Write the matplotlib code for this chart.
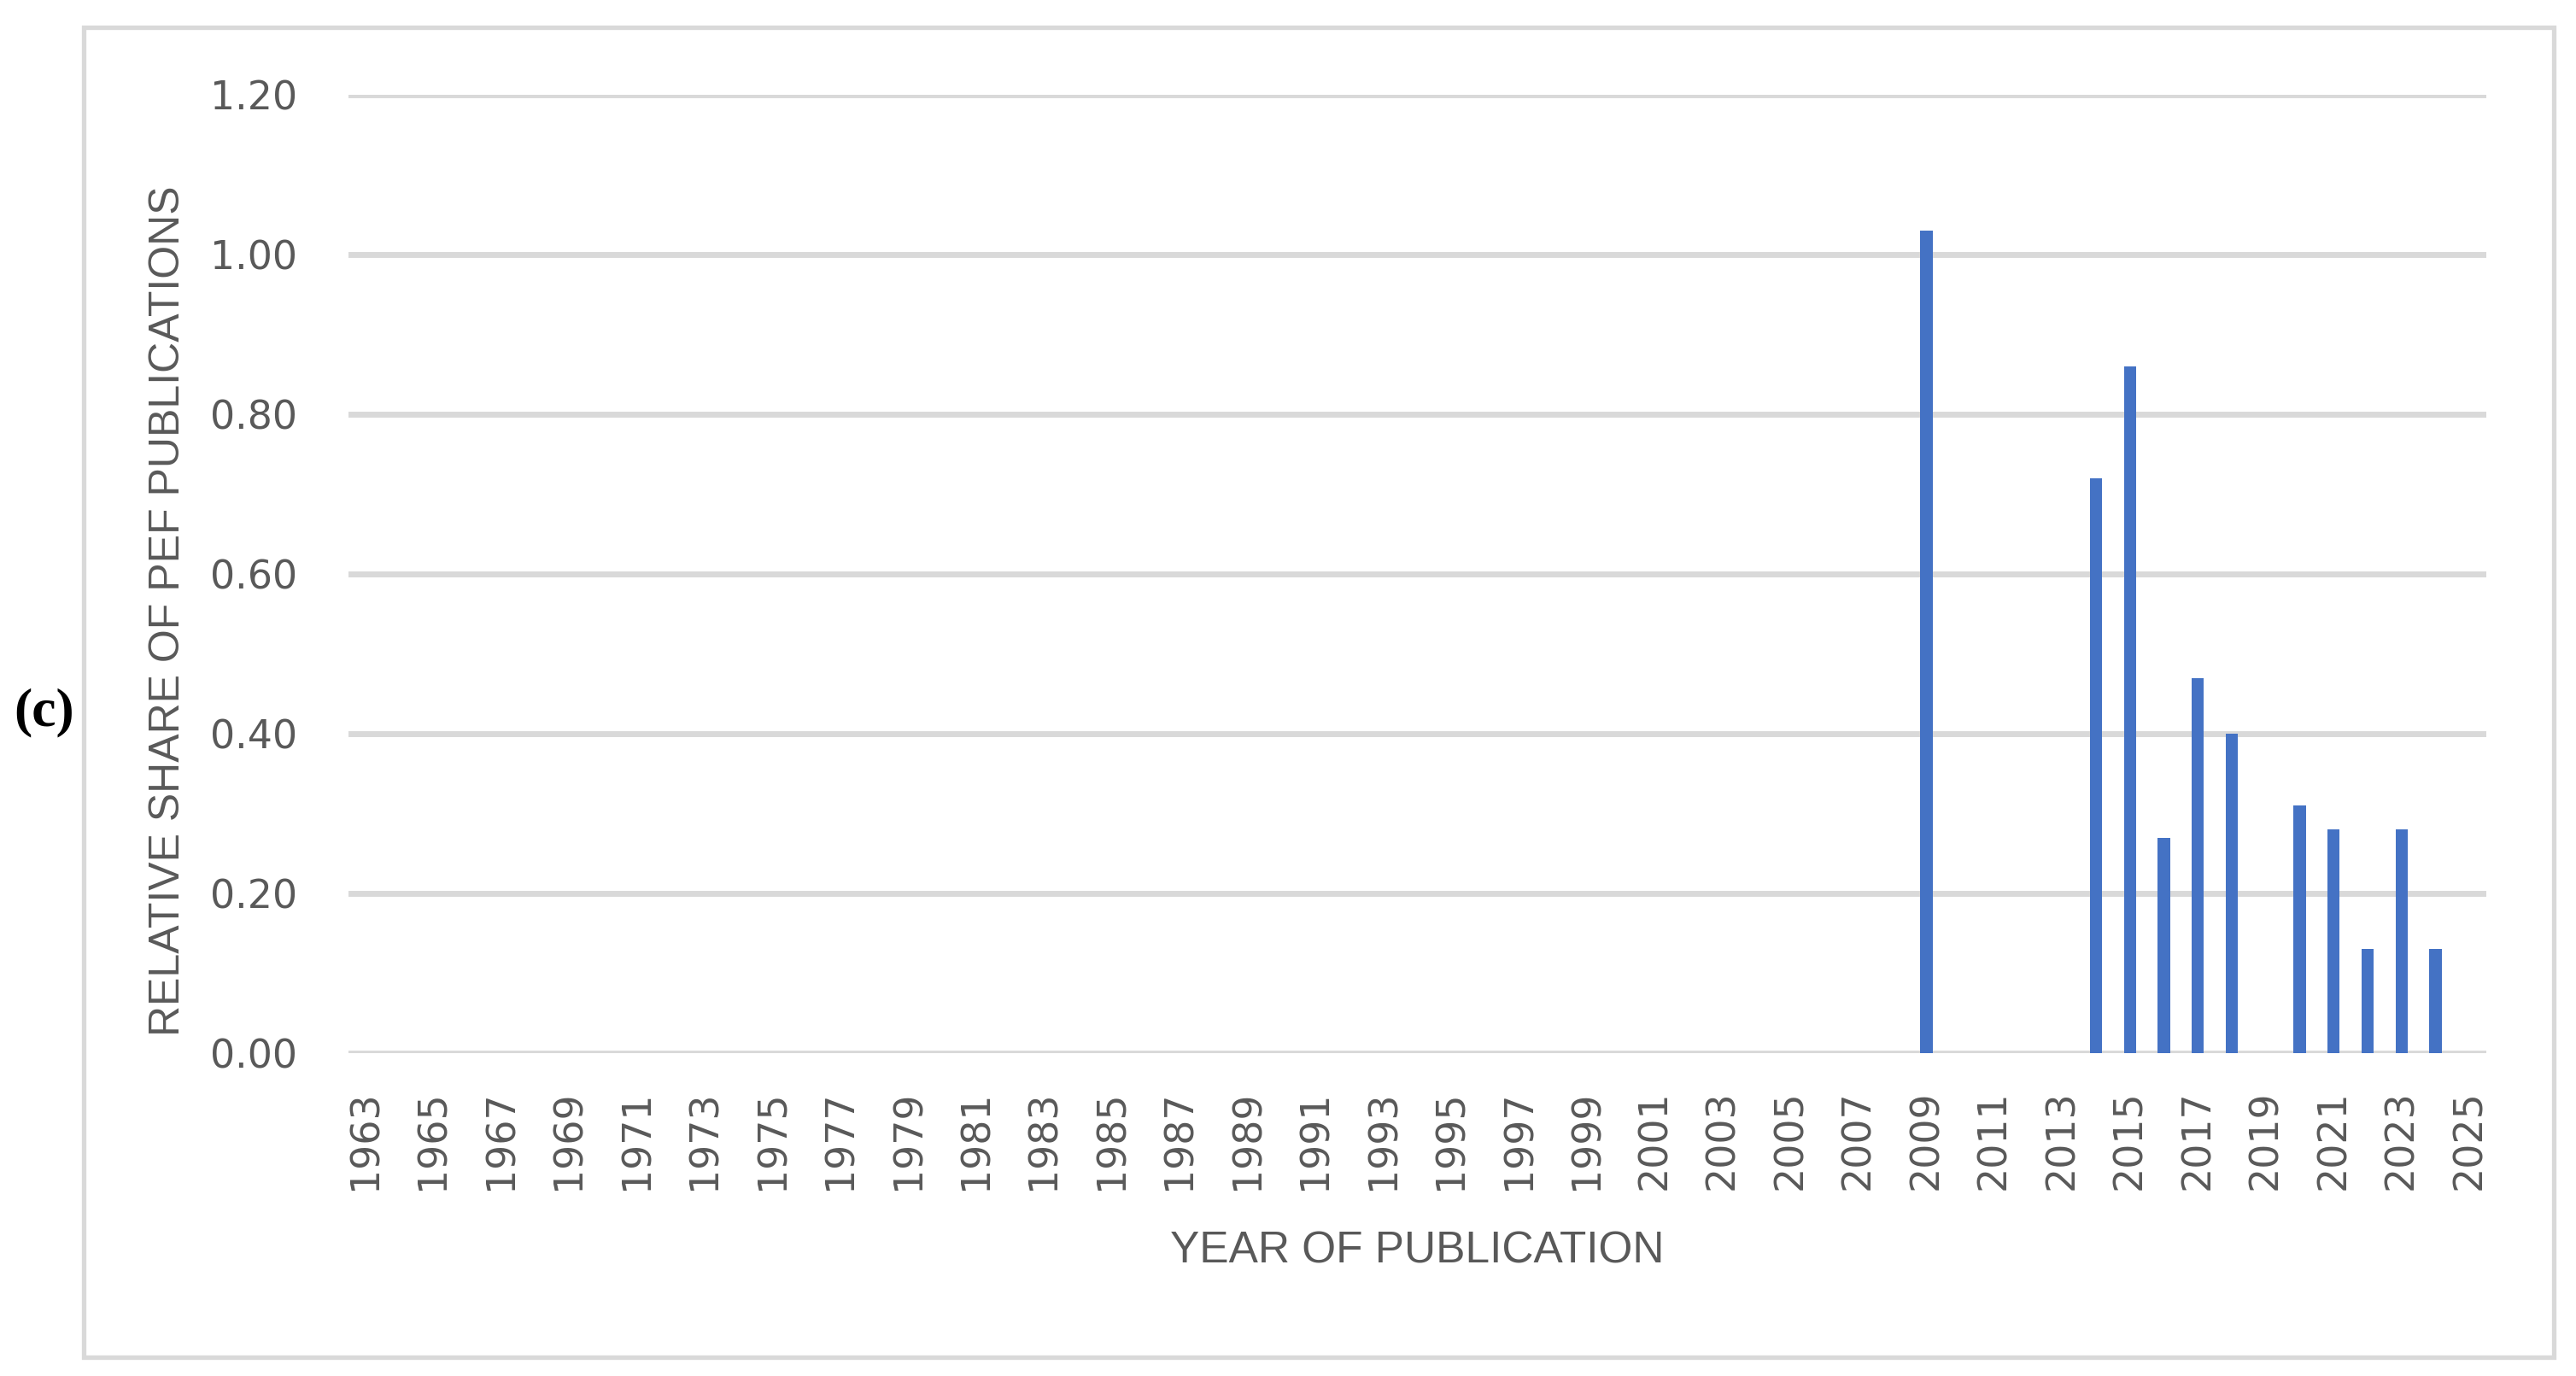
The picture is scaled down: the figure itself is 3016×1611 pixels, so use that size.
import matplotlib
matplotlib.use('Agg')
import matplotlib.pyplot as plt
from matplotlib.patches import Rectangle

years = list(range(1963, 2026))
share = [
    0, 0, 0, 0, 0, 0, 0, 0, 0, 0,          # 1963-1972
    0, 0, 0, 0, 0, 0, 0, 0, 0, 0,          # 1973-1982
    0, 0, 0, 0, 0, 0, 0, 0, 0, 0,          # 1983-1992
    0, 0, 0, 0, 0, 0, 0, 0, 0, 0,          # 1993-2002
    0, 0, 0, 0, 0, 0, 1.03, 0, 0, 0,       # 2003-2012
    0, 0.72, 0.86, 0.27, 0.47, 0.40, 0, 0.31, 0.28, 0.13,  # 2013-2022
    0.28, 0.13, 0,                         # 2023-2025
]
yticks = [0.0, 0.2, 0.4, 0.6, 0.8, 1.0, 1.2]

grey = '#595959'
grid = '#D9D9D9'
W, H = 3016, 1611

fig = plt.figure(figsize=(W / 100, H / 100), dpi=100)
fig.patch.set_facecolor('white')

# outer chart frame
fig.patches.append(Rectangle((98 / W, 1 - 1589 / H), (2990 - 98) / W, (1589 - 32) / H,
                             transform=fig.transFigure, fill=False,
                             edgecolor=grid, linewidth=3.8))

ax = fig.add_axes([408 / W, 1 - 1233 / H, (2911 - 408) / W, (1233 - 111) / H])
x = list(range(len(years)))
ax.bar(x, share, width=0.36, color='#4472C4', zorder=3)

ax.set_xlim(-0.5, len(years) - 0.5)
ax.set_ylim(0, 1.2)
ax.set_yticks(yticks)
ax.set_yticklabels([f'{v:.2f}' for v in yticks])
ax.set_xticks(x[::2])
ax.set_xticklabels([str(y) for y in years[::2]], rotation=90)

for s in ax.spines.values():
    s.set_visible(False)
ax.yaxis.grid(True, color=grid, linewidth=5, zorder=0)
ax.set_axisbelow(True)
ax.tick_params(axis='both', length=0, colors=grey, labelsize=33)
ax.tick_params(axis='y', pad=43)
ax.tick_params(axis='x', pad=31)

lab_font = ['Liberation Sans', 'DejaVu Sans']
ax.set_ylabel('RELATIVE SHARE OF PEF PUBLICATIONS', family=lab_font,
              fontsize=36, color=grey, va='center')
ax.yaxis.set_label_coords(-0.0843, 0.4617)
ax.set_xlabel('YEAR OF PUBLICATION', family=lab_font,
              fontsize=37, color=grey, va='center')
ax.xaxis.set_label_coords(0.4998, -0.2068)

fig.text(52 / W, 1 - 834 / H, '(c)', family=['Liberation Serif', 'DejaVu Serif'],
         fontweight='bold', fontsize=46, ha='center', va='center')

fig.savefig('out.png', dpi=100, facecolor='white')
